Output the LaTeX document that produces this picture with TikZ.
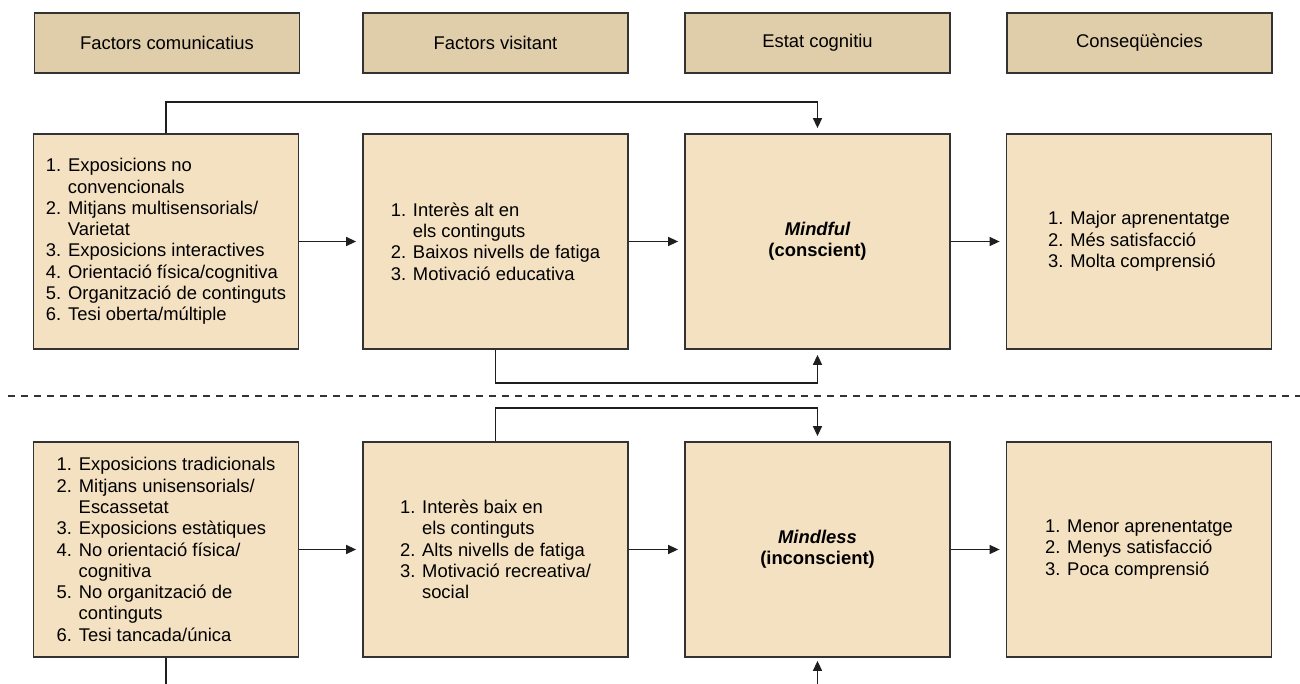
\documentclass[tikz,border=0pt]{standalone}
\usepackage{fontspec}
\setmainfont{Liberation Sans}
\usetikzlibrary{arrows.meta}
\definecolor{headfill}{HTML}{E0CDAA}
\definecolor{boxfill}{HTML}{F4E1C1}
\definecolor{edgecol}{HTML}{333333}
\definecolor{linecol}{HTML}{1E1E1E}
\newcommand\contline{\hspace*{22pt}}
\begin{document}
\begin{tikzpicture}[x=1pt,y=-1pt,
  txt/.style={font=\fontsize{18.4}{21.3}\selectfont},
  headbox/.style={txt, draw=edgecol, line width=1.8pt, fill=headfill,
    minimum width=265pt, minimum height=60pt, inner sep=0pt},
  itembox/.style={txt, draw=edgecol, line width=1.8pt, fill=boxfill,
    minimum width=265pt, minimum height=215pt, inner sep=0pt, align=left},
  link/.style={draw=linecol, line width=1.5pt},
  arr/.style={link, -{Triangle[length=10pt,width=9pt]}},
  gapend/.style={shorten >=5pt}]
\useasboundingbox (0,0) rectangle (1300,684);

% column headings
\node[headbox] (h1) at (167,43) {Factors comunicatius};
\node[headbox] (h2) at (495.5,43) {Factors visitant};
\node[headbox] (h3) at (817.5,43) {Estat cognitiu};
\node[headbox] (h4) at (1139.5,43) {Conseqüències};

% upper row: mindful path
\node[itembox] (t1) at (166,241.5) {1. Exposicions no\\
  \contline convencionals\\
  2. Mitjans multisensorials/\\
  \contline Varietat\\
  3. Exposicions interactives\\
  4. Orientació física/cognitiva\\
  5. Organització de continguts\\
  6. Tesi oberta/múltiple};
\node[itembox] (t2) at (495.5,241.5) {1. Interès alt en\\
  \contline els continguts\\
  2. Baixos nivells de fatiga\\
  3. Motivació educativa};
\node[itembox, align=center] (t3) at (817.5,241.5)
  {{\bfseries\itshape Mindful}\\{\bfseries (conscient)}};
\node[itembox] (t4) at (1139,241.5) {1. Major aprenentatge\\
  2. Més satisfacció\\
  3. Molta comprensió};

% lower row: mindless path
\node[itembox] (b1) at (166,549.5) {1. Exposicions tradicionals\\
  2. Mitjans unisensorials/\\
  \contline Escassetat\\
  3. Exposicions estàtiques\\
  4. No orientació física/\\
  \contline cognitiva\\
  5. No organització de\\
  \contline continguts\\
  6. Tesi tancada/única};
\node[itembox] (b2) at (495.5,549.5) {1. Interès baix en\\
  \contline els continguts\\
  2. Alts nivells de fatiga\\
  3. Motivació recreativa/\\
  \contline social};
\node[itembox, align=center] (b3) at (817.5,549.5)
  {{\bfseries\itshape Mindless}\\{\bfseries (inconscient)}};
\node[itembox] (b4) at (1139,549.5) {1. Menor aprenentatge\\
  2. Menys satisfacció\\
  3. Poca comprensió};

% dividing line between the two paths
\coordinate (dl) at (8,396);
\coordinate (dr) at (1300,396);
\draw[draw=edgecol, line width=1.3pt, dash pattern=on 7pt off 6pt] (dl) -- (dr);

% bottom edge, where the lower loop leaves the frame
\coordinate (edge) at (0,684);

% forward arrows along each row
\draw[arr, shorten >=6pt] (t1.east) -- (t2.west);
\draw[arr, shorten >=6pt] (t2.east) -- (t3.west);
\draw[arr, shorten >=6pt] (t3.east) -- (t4.west);
\draw[arr, shorten >=6pt] (b1.east) -- (b2.west);
\draw[arr, shorten >=6pt] (b2.east) -- (b3.west);
\draw[arr, shorten >=6pt] (b3.east) -- (b4.west);

% loops into the cognitive state
\draw[arr, gapend] (t1.north) -- ++(0,-31) -| (t3.north);
\draw[arr, gapend] (t2.south) -- ++(0,33) -| (t3.south);
\draw[arr, gapend] (b2.north) -- ++(0,-33) -| (b3.north);
\draw[link] (b1.south) -- (b1.south |- edge);
\draw[arr, shorten >=3pt] (b3.south |- edge) -- (b3.south);
\end{tikzpicture}
\end{document}
